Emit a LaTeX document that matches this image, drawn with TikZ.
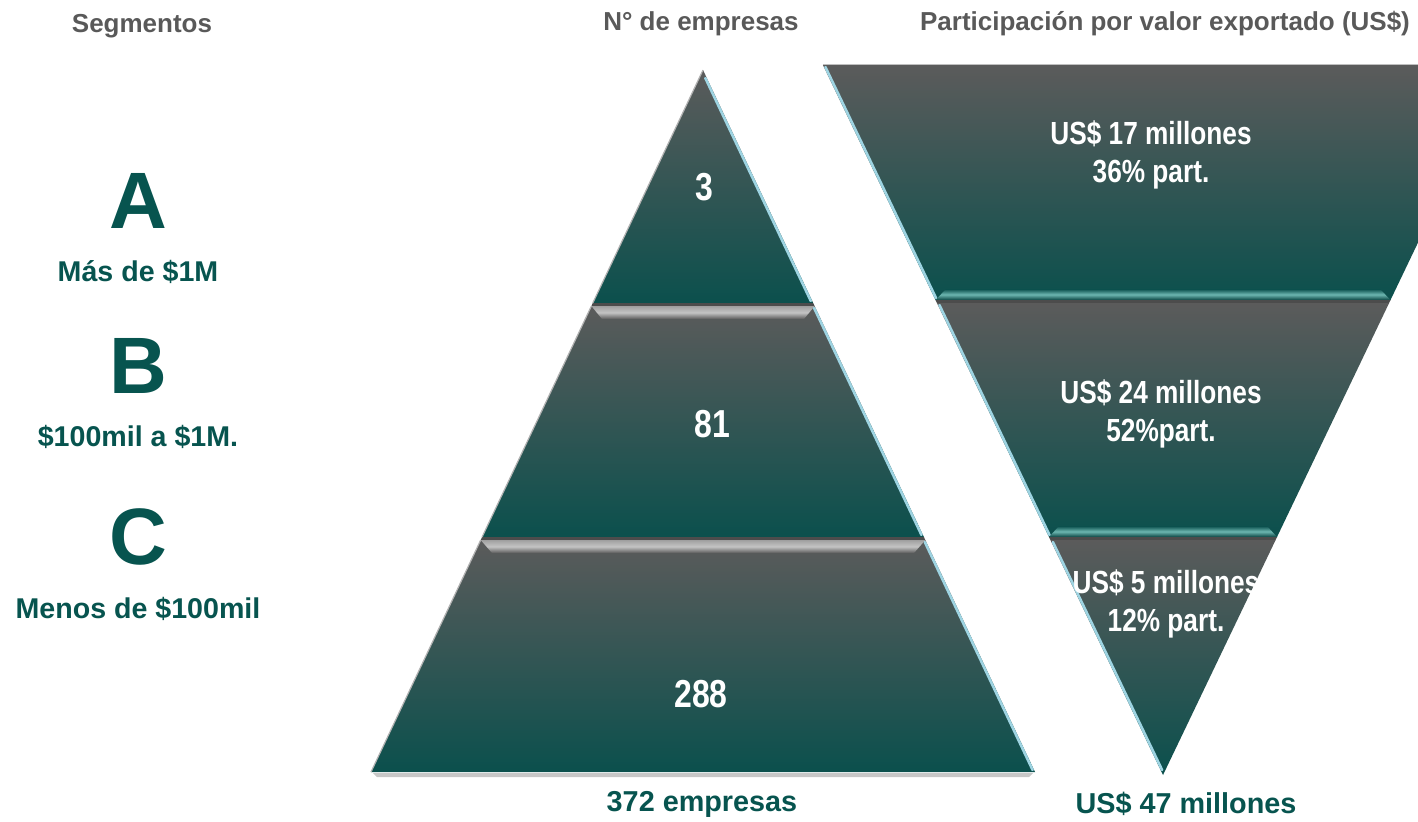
\documentclass[tikz,border=0pt]{standalone}
\usepackage{fontspec}
\setmainfont{Liberation Sans}
\newfontfamily\narrowf[FakeStretch=0.82]{Liberation Sans}
\definecolor{gtop}{HTML}{5B5B5B}
\definecolor{tbot}{HTML}{0B504D}
\definecolor{greentxt}{HTML}{07544F}
\definecolor{hdrgray}{HTML}{595959}
\definecolor{edgeblue}{HTML}{9ED4E2}
\definecolor{bevgray}{HTML}{C4C4C4}
\definecolor{bevteal}{HTML}{6DB7B1}
\begin{document}
\begin{tikzpicture}[x=0.5pt,y=-0.5pt,
  hdr/.style={font=\fontsize{13}{15}\selectfont\bfseries, text=hdrgray, inner sep=0pt},
  bigletter/.style={font=\fontsize{40}{44}\selectfont\bfseries, text=greentxt, inner sep=0pt},
  seglabel/.style={font=\fontsize{14.3}{16}\selectfont\bfseries, text=greentxt, inner sep=0pt},
  bandtxt/.style={font=\narrowf\fontsize{16}{19}\selectfont\bfseries, text=white, inner sep=0pt, align=center},
  numtxt/.style={font=\narrowf\fontsize{19.5}{22}\selectfont\bfseries, text=white, inner sep=0pt},
  bottxt/.style={font=\fontsize{14.4}{16}\selectfont\bfseries, text=greentxt, inner sep=0pt},
  band/.style={top color=gtop, bottom color=tbot},
  pyrbevel/.style={top color=gray!75, bottom color=gtop, middle color=bevgray},
  invbevel/.style={top color=tbot, bottom color=tbot!85!black, middle color=bevteal},
  hilite/.style={draw=edgeblue, line width=1.3pt, line cap=round}]
\useasboundingbox (0,0) rectangle (1418,821);
\clip (0,0) rectangle (1418,821);

% ---------- pyramid (N de empresas) ----------
\fill[black!22] (373,773) -- (1033,773) -- (1029,777) -- (377,777) -- cycle;
% band 1 (apex)
\shade[band] (703,70) -- (813.2,303) -- (592.8,303) -- cycle;
% band 2
\fill[black!70] (592.8,303) -- (813.2,303) -- (814.6,306) -- (591.4,306) -- cycle;
\shade[band] (591.4,306) -- (814.6,306) -- (923.9,537) -- (482.1,537) -- cycle;
\shade[pyrbevel] (591.4,306) -- (814.6,306) -- (804,319) -- (602,319) -- cycle;
% band 3
\fill[black!70] (482.1,537) -- (923.9,537) -- (925.3,540) -- (480.7,540) -- cycle;
\shade[band] (480.7,540) -- (925.3,540) -- (1035,772) -- (371,772) -- cycle;
\shade[pyrbevel] (480.7,540) -- (925.3,540) -- (914,553) -- (492,553) -- cycle;
% right edge highlights
\draw[hilite] (705.3,78) -- (810.8,301);
\draw[hilite] (814.1,308) -- (921.5,535);
\draw[hilite] (924.8,542) -- (1032.6,770);
\draw[black!30, line width=0.6pt] (703,70) -- (592.8,303);
\draw[black!30, line width=0.6pt] (591.4,306) -- (482.1,537);
\draw[black!30, line width=0.6pt] (480.7,540) -- (371,772);

% ---------- inverted triangle (valor exportado) ----------
\draw[black!25, line width=0.8pt] (822.9,65) -- (1418,65);
\shade[band] (822.9,65) -- (1503.1,65) -- (1390.5,300) -- (935.5,300) -- cycle;
\shade[invbevel] (946,289) -- (1380,289) -- (1390.5,300) -- (935.5,300) -- cycle;
\fill[black!70] (935.5,300) -- (1390.5,300) -- (1389.1,303) -- (936.9,303) -- cycle;
\shade[band] (936.9,303) -- (1389.1,303) -- (1277,537) -- (1049,537) -- cycle;
\shade[invbevel] (1059,526) -- (1267,526) -- (1277,537) -- (1049,537) -- cycle;
\fill[black!70] (1049,537) -- (1277,537) -- (1275.6,540) -- (1050.4,540) -- cycle;
\shade[band] (1050.4,540) -- (1275.6,540) -- (1163,775) -- cycle;
% left edge highlights
\draw[hilite] (825.4,67) -- (936,298);
\draw[hilite] (939.4,305) -- (1049.5,535);
\draw[hilite] (1052.9,542) -- (1162.1,770);

% ---------- headers ----------
\node[hdr] (hseg) at (142,26) {Segmentos};
\node[hdr] (hemp) at (701,24) {N° de empresas};
\node[hdr] (hval) at (1165,24) {Participación por valor exportado (US\$)};

% ---------- segments ----------
\node[bigletter] (la) at (138,201) {A};
\node[seglabel] (sa) at (138,272) {Más de \$1M};
\node[bigletter] (lb) at (138,366) {B};
\node[seglabel] (sb) at (138,437) {\$100mil a \$1M.};
\node[bigletter] (lc) at (138,537) {C};
\node[seglabel] (sc) at (138,609) {Menos de \$100mil};

% ---------- band texts ----------
\node[numtxt] (n3) at (704,187) {3};
\node[numtxt] (n81) at (712,424) {81};
\node[numtxt] (n288) at (701,694) {288};
\node[bandtxt] (v17) at (1151,155) {US\$ 17 millones\\36\% part.};
\node[bandtxt] (v24) at (1161,414) {US\$ 24 millones\\52\%part.};
\node[bandtxt] (v5) at (1166,604) {US\$ 5 millones\\12\% part.};

% ---------- totals ----------
\node[bottxt] (temp) at (702,804) {372 empresas};
\node[bottxt] (tval) at (1186,804) {US\$ 47 millones};
\end{tikzpicture}
\end{document}
